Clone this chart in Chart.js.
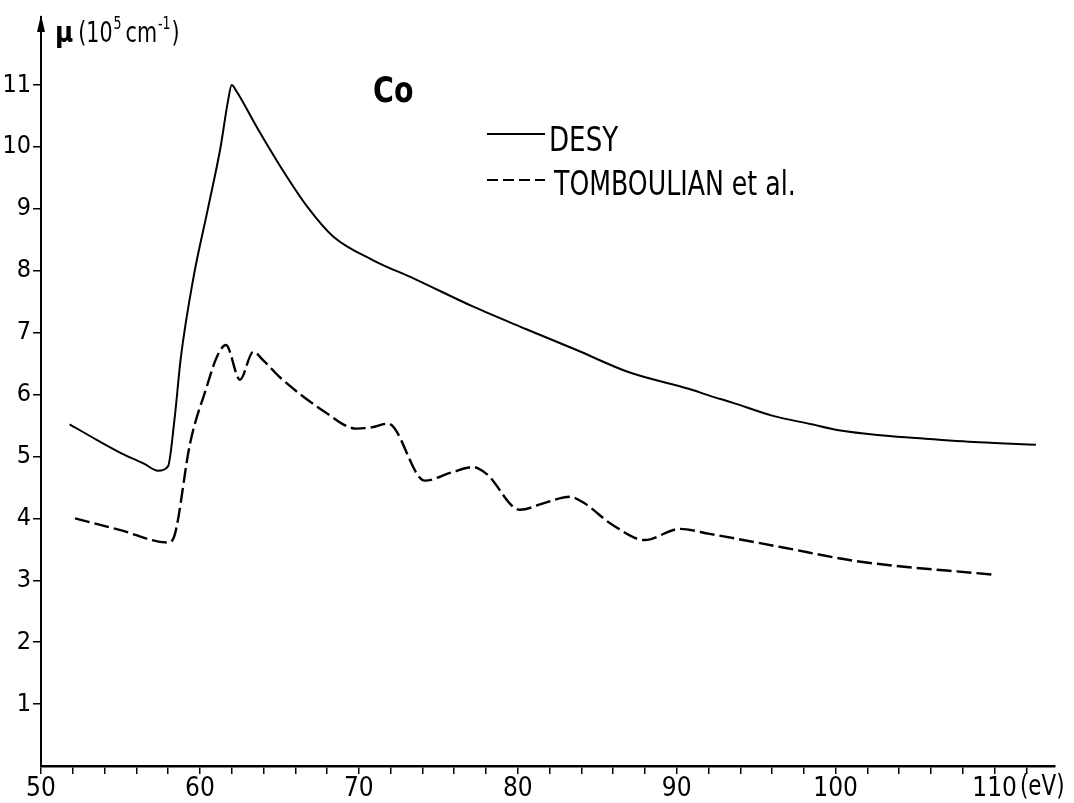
<!DOCTYPE html>
<html>
<head>
<meta charset="utf-8">
<script src="https://cdn.jsdelivr.net/npm/chart.js@4/dist/chart.umd.min.js"></script>
<style>
  html, body { margin: 0; padding: 0; background: #fff; }
  #wrap { width: 1074px; height: 803px; }
</style>
</head>
<body>
<div id="wrap"><canvas id="c" width="1074" height="803"></canvas></div>
<script>
// ---- data ----
const desyE  = [51.8, 53.5, 55.0, 56.5, 57.36, 57.99, 58.4, 58.8, 59.6, 60.5, 61.3, 61.75, 62.0, 62.3, 63.6, 65.1, 66.8, 68.4, 70.9, 73.5, 77.2, 80.5, 83.7, 87.0, 90.8, 92.1, 93.5, 96.0, 98.5, 100.3, 103.0, 105.5, 109.0, 112.6];
const desyMu = [5.52, 5.27, 5.06, 4.88, 4.77, 4.84, 5.6, 6.6, 7.9, 9.0, 10.0, 10.72, 11.0, 10.9, 10.31, 9.67, 9.02, 8.55, 8.17, 7.87, 7.42, 7.06, 6.72, 6.36, 6.09, 5.98, 5.87, 5.66, 5.52, 5.42, 5.34, 5.29, 5.23, 5.19];

const tombE  = [52.14, 55.0, 58.0, 58.43, 59.37, 60.42, 61.05, 61.64, 62.52, 63.35, 64.0, 65.03, 67.75, 69.86, 70.8, 71.84, 74.15, 75.8, 77.19, 78.03, 80.13, 81.8, 83.27, 84.1, 85.99, 87.99, 90.19, 92.08, 96.69, 101.3, 109.9];
const tombMu = [4.0, 3.81, 3.61, 3.75, 5.2, 6.12, 6.6, 6.8, 6.24, 6.69, 6.55, 6.28, 5.74, 5.45, 5.47, 5.53, 4.61, 4.74, 4.83, 4.72, 4.14, 4.26, 4.35, 4.26, 3.89, 3.65, 3.83, 3.75, 3.53, 3.31, 3.09];

const xTickValues = [50,52,54,56,58,60,62,64,66,68,70,72,74,76,78,80,82,84,86,88,90,92,94,96,98,100,102,104,106,108,110,112];
const xTickLabels = {50:'50',60:'60',70:'70',80:'80',90:'90',100:'100',110:'110'};
const yTickValues = [1,2,3,4,5,6,7,8,9,10,11];

const seriesNames = ['DESY', 'TOMBOULIAN et al.'];
const elementLabel = 'Co';
const xUnit = '(eV)';

const FONT = "'Liberation Sans Narrow', 'DejaVu Sans Condensed', 'Arial Narrow', sans-serif";

function pts(xs, ys) { return xs.map((x, i) => ({ x: x, y: ys[i] })); }

const decor = {
  id: 'decor',
  afterDraw(chart) {
    const ctx = chart.ctx;
    const area = chart.chartArea;
    ctx.save();
    ctx.fillStyle = '#000';
    ctx.strokeStyle = '#000';
    ctx.textBaseline = 'alphabetic';
    ctx.textAlign = 'left';

    function squeezed(t, font, x, y, sx) {
      ctx.save();
      ctx.font = font;
      ctx.translate(x, y);
      ctx.scale(sx, 1);
      ctx.fillText(t, 0, 0);
      const w = ctx.measureText(t).width * sx;
      ctx.restore();
      return w;
    }

    // arrow at the top of the y axis
    ctx.beginPath();
    ctx.moveTo(area.left, area.top - 2);
    ctx.lineTo(area.left - 4, area.top + 15);
    ctx.lineTo(area.left + 4, area.top + 15);
    ctx.closePath();
    ctx.fill();

    // y axis title: μ (10^5 cm^-1)
    let x = 55;
    const base = 42, sx = 0.82;
    const big = '28px ' + FONT, small = '17px ' + FONT;
    x += squeezed('\u03bc', 'bold 29px ' + FONT, x, base, 0.95) + 5;
    x += squeezed('(10', big, x, base, sx);
    x += squeezed('5', small, x + 1, base - 13, sx) + 5;
    x += squeezed('cm', big, x, base, sx);
    x += squeezed('-1', small, x + 1, base - 13, sx) + 2;
    squeezed(')', big, x, base, sx);

    // element label
    squeezed(elementLabel, 'bold 36px ' + FONT, 373, 102, 0.88);

    // legend
    ctx.lineWidth = 2;
    ctx.setLineDash([]);
    ctx.beginPath(); ctx.moveTo(487, 134); ctx.lineTo(545, 134); ctx.stroke();
    ctx.setLineDash([11, 5]);
    ctx.beginPath(); ctx.moveTo(487, 180); ctx.lineTo(545, 180); ctx.stroke();
    ctx.setLineDash([]);
    squeezed(seriesNames[0], '33px ' + FONT, 549, 151, 0.88);
    squeezed(seriesNames[1], '33px ' + FONT, 554, 195, 0.85);

    // x unit
    squeezed(xUnit, '28px ' + FONT, 1020, 795, 0.85);
    ctx.restore();
  }
};

new Chart(document.getElementById('c'), {
  type: 'scatter',
  data: {
    datasets: [
      { label: seriesNames[0], data: pts(desyE, desyMu), showLine: true, borderColor: '#000', borderWidth: 2,
        pointRadius: 0, cubicInterpolationMode: 'monotone', fill: false },
      { label: seriesNames[1], data: pts(tombE, tombMu), showLine: true, borderColor: '#000', borderWidth: 2.4,
        borderDash: [15, 5], pointRadius: 0, cubicInterpolationMode: 'monotone', fill: false }
    ]
  },
  options: {
    responsive: false,
    animation: false,
    layout: { padding: { top: 16, right: 19, left: 0, bottom: 0 } },
    plugins: { legend: { display: false }, tooltip: { enabled: false } },
    scales: {
      x: {
        type: 'linear', min: 50, max: 113.8,
        afterBuildTicks: s => { s.ticks = xTickValues.map(v => ({ value: v })); },
        afterFit: s => { s.height = 37; },
        border: { display: true, color: '#000', width: 2.5 },
        grid: { drawOnChartArea: false, drawTicks: true, tickLength: 8, color: '#000', lineWidth: 1.5 },
        ticks: { autoSkip: false, maxRotation: 0, padding: 0, color: '#000',
          font: { family: FONT, size: 26 },
          callback: v => (xTickLabels[v] !== undefined ? xTickLabels[v] : '') }
      },
      y: {
        type: 'linear', min: 0, max: 12.1,
        afterBuildTicks: s => { s.ticks = yTickValues.map(v => ({ value: v })); },
        afterFit: s => { s.width = 41; },
        border: { display: true, color: '#000', width: 2 },
        grid: { drawOnChartArea: false, drawTicks: true, tickLength: 8, color: '#000', lineWidth: 1.5 },
        ticks: { autoSkip: false, padding: 2, color: '#000',
          font: { family: FONT, size: 25 },
          callback: v => String(v) }
      }
    }
  },
  plugins: [decor]
});
</script>
</body>
</html>
